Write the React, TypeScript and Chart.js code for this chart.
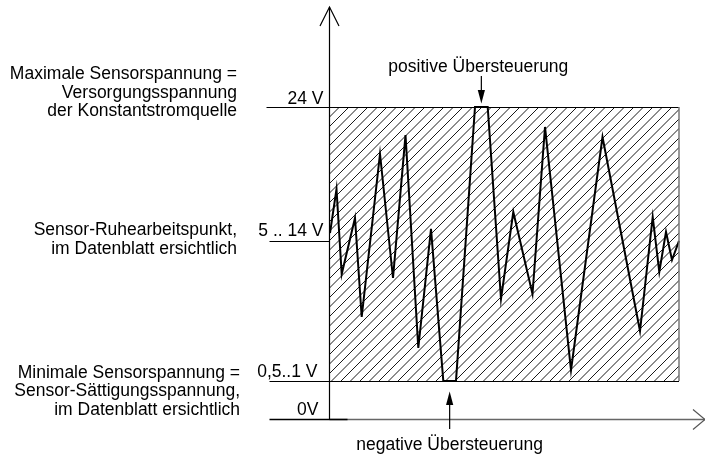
import React, { useEffect, useRef } from "react";
import { Chart, registerables } from "chart.js";

Chart.register(...registerables);

// time axis (arbitrary units) and sensor voltage (schematic units)
const TIME = [0, 6.5, 11.7, 25, 31.7, 50, 63, 75.5, 88.3, 101, 113.3, 126, 145, 157.7, 171, 183.3, 202.5, 215, 241, 272.5, 310, 322.7, 329.3, 336, 342, 349];
const SIGNAL = [14.34, 17.71, 11.19, 15.49, 7.9, 20.4, 10.89, 21.85, 5.52, 14.65, 3.0, 3.0, 24, 24, 9.28, 15.95, 9.66, 22.47, 3.83, 21.7, 6.82, 15.57, 11.35, 14.42, 12.27, 13.73];

const RAIL_HIGH = 24;
const RAIL_LOW = 3;
const REST_LEVEL = 13.73;
const ZERO_LEVEL = 0;
const RANGE_END = 349;
const X_MAX = 375;
const Y_MAX = 31.67;

const LEVEL_VALUES = [RAIL_HIGH, REST_LEVEL, RAIL_LOW, ZERO_LEVEL];
const LEVEL_LABELS = ["24 V", "5 .. 14 V", "0,5..1 V", "0V"];

const DESC_MAX = ["Maximale Sensorspannung =", "Versorgungsspannung", "der Konstantstromquelle"];
const DESC_REST = ["Sensor-Ruhearbeitspunkt,", "im Datenblatt ersichtlich"];
const DESC_MIN = ["Minimale Sensorspannung =", "Sensor-Sättigungsspannung,", "im Datenblatt ersichtlich"];

const POS_LABEL = "positive Übersteuerung";
const NEG_LABEL = "negative Übersteuerung";

const FONT = '17.5px "Liberation Sans", Arial, sans-serif';

function makePattern(): CanvasPattern | string {
  const c = document.createElement("canvas");
  const s = 9.5;
  c.width = 19;
  c.height = 19;
  const g = c.getContext("2d");
  if (!g) return "transparent";
  g.strokeStyle = "#1a1a1a";
  g.lineWidth = 1;
  const n = 19;
  for (let k = -2; k <= 4; k++) {
    const o = k * s;
    g.beginPath();
    g.moveTo(o - n, n + n);
    g.lineTo(o + n + n, -n);
    g.stroke();
  }
  void n;
  return g.createPattern(c, "repeat") || "transparent";
}

const annotPlugin = {
  id: "annot",
  afterDatasetsDraw(chart: any) {
    const ctx: CanvasRenderingContext2D = chart.ctx;
    const xs = chart.scales.x;
    const ys = chart.scales.y;
    const px = (v: number) => xs.getPixelForValue(v);
    const py = (v: number) => ys.getPixelForValue(v);
    const ax = px(0) - 0.5;
    ctx.save();
    ctx.lineCap = "butt";

    const hline = (x1: number, x2: number, y: number, color: string, w: number) => {
      ctx.strokeStyle = color;
      ctx.lineWidth = w;
      ctx.beginPath();
      ctx.moveTo(x1, y);
      ctx.lineTo(x2, y);
      ctx.stroke();
    };

    // rectangle borders
    hline(ax - 63, px(RANGE_END), Math.round(py(RAIL_HIGH)) + 0.5, "#000", 1);
    hline(ax - 60, px(RANGE_END), Math.round(py(RAIL_LOW)) + 0.5, "#000", 1);
    ctx.strokeStyle = "#777";
    ctx.lineWidth = 1.5;
    ctx.beginPath();
    ctx.moveTo(px(RANGE_END), py(RAIL_LOW));
    ctx.lineTo(px(RANGE_END), py(RAIL_HIGH));
    ctx.stroke();

    // rest level tick
    hline(ax - 60, ax, Math.round(py(REST_LEVEL)) + 0.5, "#000", 1);

    // x axis
    const y0 = Math.round(py(ZERO_LEVEL)) - 0.5;
    hline(ax, px(X_MAX), y0, "#666", 1.5);
    hline(ax - 60, ax + 18, y0, "#000", 1.5);
    ctx.strokeStyle = "#555";
    ctx.lineWidth = 1.2;
    ctx.beginPath();
    ctx.moveTo(px(X_MAX) - 12, y0 - 10);
    ctx.lineTo(px(X_MAX), y0);
    ctx.lineTo(px(X_MAX) - 12, y0 + 10);
    ctx.stroke();

    // y axis
    ctx.strokeStyle = "#000";
    ctx.lineWidth = 1.2;
    ctx.beginPath();
    ctx.moveTo(ax, y0);
    ctx.lineTo(ax, py(Y_MAX));
    ctx.stroke();
    ctx.beginPath();
    ctx.moveTo(ax - 9.5, py(Y_MAX) + 19);
    ctx.lineTo(ax, py(Y_MAX));
    ctx.lineTo(ax + 9.5, py(Y_MAX) + 19);
    ctx.stroke();

    // texts
    ctx.fillStyle = "#000";
    ctx.font = FONT;
    ctx.textBaseline = "alphabetic";
    ctx.textAlign = "right";
    const lvlOffsets = [-3, -4.5, -4, -5];
    const lvlRight = [ax - 6, ax - 6, ax - 12, ax - 11];
    LEVEL_VALUES.forEach((v, i) => {
      ctx.fillText(LEVEL_LABELS[i], lvlRight[i], py(v) + lvlOffsets[i]);
    });

    const lh = 18.7;
    const drawGroup = (lines: string[], level: number, first: number, right: number) => {
      lines.forEach((t, i) => ctx.fillText(t, right, py(level) + first + i * lh));
    };
    drawGroup(DESC_MAX, RAIL_HIGH, -28, 237);
    drawGroup(DESC_REST, REST_LEVEL, -6, 237);
    drawGroup(DESC_MIN, RAIL_LOW, -3.3, 240);

    // overdrive arrows
    const posX = px((TIME[12] + TIME[13]) / 2);
    const negX = px((TIME[10] + TIME[11]) / 2);
    const topY = py(RAIL_HIGH);
    const lowY = py(RAIL_LOW);

    ctx.textAlign = "center";
    ctx.fillText(POS_LABEL, posX - 3, topY - 34.7);
    ctx.fillText(NEG_LABEL, negX, lowY + 69);

    ctx.strokeStyle = "#000";
    ctx.lineWidth = 1.2;
    ctx.beginPath();
    ctx.moveTo(posX, topY - 31);
    ctx.lineTo(posX, topY - 16);
    ctx.stroke();
    ctx.beginPath();
    ctx.moveTo(posX - 3.6, topY - 17);
    ctx.lineTo(posX + 3.6, topY - 17);
    ctx.lineTo(posX, topY - 3.5);
    ctx.closePath();
    ctx.fill();

    ctx.beginPath();
    ctx.moveTo(negX, lowY + 48);
    ctx.lineTo(negX, lowY + 22);
    ctx.stroke();
    ctx.beginPath();
    ctx.moveTo(negX - 3.6, lowY + 24);
    ctx.lineTo(negX + 3.6, lowY + 24);
    ctx.lineTo(negX, lowY + 10.5);
    ctx.closePath();
    ctx.fill();

    ctx.restore();
  },
};

export default function App() {
  const ref = useRef<HTMLCanvasElement | null>(null);
  useEffect(() => {
    if (!ref.current) return;
    const pattern = makePattern();
    const signalData = TIME.map((t, i) => ({ x: t, y: SIGNAL[i] }));
    const chart = new Chart(ref.current, {
      type: "line",
      data: {
        datasets: [
          {
            data: signalData,
            borderColor: "#000",
            borderWidth: 2,
            pointRadius: 0,
            tension: 0,
            fill: false,
            borderJoinStyle: "miter",
          } as any,
          {
            data: [
              { x: 0, y: RAIL_HIGH },
              { x: RANGE_END, y: RAIL_HIGH },
            ],
            borderColor: "rgba(0,0,0,0)",
            borderWidth: 0,
            pointRadius: 0,
            fill: { value: RAIL_LOW },
            backgroundColor: pattern as any,
          } as any,
        ],
      },
      options: {
        responsive: false,
        animation: false,
        events: [],
        layout: { padding: { left: 330, right: 0, top: 7, bottom: 35 } },
        plugins: { legend: { display: false }, tooltip: { enabled: false } },
        scales: {
          x: { type: "linear", min: 0, max: X_MAX, display: false },
          y: { type: "linear", min: 0, max: Y_MAX, display: false },
        },
      },
      plugins: [annotPlugin],
    });
    return () => chart.destroy();
  }, []);
  return (
    <div style={{ position: "fixed", left: 0, top: 0, width: 705, height: 455, background: "#fff" }}>
      <canvas ref={ref} width={705} height={455} style={{ display: "block" }} />
    </div>
  );
}
